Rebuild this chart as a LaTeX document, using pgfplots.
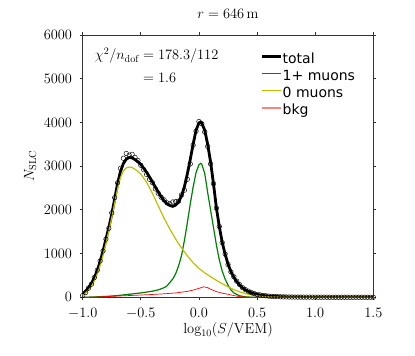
\documentclass[border=0pt]{standalone}
\usepackage{pgfplots}
\pgfplotsset{compat=1.18}
\usepackage{fontspec}
\newfontfamily\legfont{DejaVu Sans}
\definecolor{mplgreen}{rgb}{0,0.5,0}
\definecolor{mplyellow}{rgb}{0.75,0.75,0}
\definecolor{spine}{rgb}{0.2,0.2,0.2}

\begin{document}
\begin{tikzpicture}
\begin{axis}[scale only axis, width=290.6pt, height=262.3pt,
  xmin=-1, xmax=1.5, ymin=0, ymax=6000,
  xtick={-1,-0.5,0,0.5,1,1.5}, ytick={0,1000,...,6000},
  xticklabel style={inner sep=0pt, yshift=-8pt, /pgf/number format/.cd,fixed,fixed zerofill,precision=1},
  yticklabel style={inner sep=0pt, xshift=-7.5pt, /pgf/number format/set thousands separator={}},
  scaled y ticks=false,
  tick align=outside, major tick length=3pt, tick pos=both,
  axis line style={spine, line width=0.8pt}, tick style={spine, line width=0.8pt},
  tick label style={font=\fontsize{14.5}{17}\selectfont},
  label style={font=\fontsize{14.5}{17}\selectfont},
  xlabel={$\log_{10}(S/\mathrm{VEM})$},
  xlabel style={at={(axis description cs:0.5,0)}, anchor=base, yshift=-36pt},
  ylabel={$N_{\mathrm{SLC}}$},
  ylabel style={at={(axis description cs:-0.181,0.5)}, anchor=center},
  legend cell align=left,
  legend style={draw=none, fill=none, at={(rel axis cs:0.6125,0.934)}, anchor=north west,
    font=\legfont\fontsize{14}{17}\selectfont, row sep=3.7pt, inner sep=0pt,
    nodes={inner sep=0pt, text height=10.5pt, text depth=3pt},
    /tikz/every even column/.append style={column sep=5pt}},
  legend image code/.code={\draw[#1] (0pt,0.3em) -- (19pt,0.3em);},
]
% total fit
\addplot[black, line width=2.8pt, forget plot] coordinates {
(-1.000,70)(-0.975,140)(-0.950,220)(-0.925,320)(-0.900,450)(-0.875,610)(-0.850,820)
(-0.825,1060)(-0.800,1330)(-0.775,1600)(-0.750,1900)(-0.725,2250)(-0.700,2600)
(-0.675,2880)(-0.650,3060)(-0.625,3160)(-0.600,3200)(-0.575,3190)(-0.550,3150)
(-0.525,3100)(-0.500,3040)(-0.475,2950)(-0.450,2860)(-0.425,2750)(-0.400,2640)
(-0.375,2520)(-0.350,2410)(-0.325,2300)(-0.300,2210)(-0.275,2140)(-0.250,2100)
(-0.225,2080)(-0.200,2110)(-0.175,2180)(-0.150,2320)(-0.125,2530)(-0.100,2820)
(-0.075,3150)(-0.050,3500)(-0.025,3820)(0.000,3990)(0.015,4010)(0.025,3980)
(0.050,3820)(0.075,3500)(0.100,3100)(0.125,2600)(0.150,2050)(0.175,1620)
(0.200,1260)(0.225,990)(0.250,760)(0.275,590)(0.300,460)(0.325,360)(0.350,280)
(0.375,215)(0.400,170)(0.425,135)(0.450,105)(0.475,82)(0.500,65)(0.550,42)
(0.600,27)(0.650,18)(0.700,12)(0.800,6)(0.900,3)(1.000,2)(1.250,1)(1.500,0)};
% 1+ muons
\addplot[mplgreen, line width=1.2pt, forget plot] coordinates {
(-1.0,0)(-0.9,8)(-0.8,20)(-0.7,40)(-0.6,70)(-0.5,100)(-0.4,140)(-0.35,170)(-0.3,220)
(-0.275,260)(-0.25,340)(-0.225,420)(-0.2,540)(-0.175,720)(-0.15,950)(-0.125,1300)
(-0.1,1700)(-0.075,2130)(-0.05,2520)(-0.025,2850)(0.0,3030)(0.015,3065)(0.025,3040)
(0.05,2830)(0.075,2400)(0.1,2000)(0.125,1600)(0.15,1200)(0.175,860)(0.2,600)
(0.225,420)(0.25,280)(0.275,170)(0.3,100)(0.35,35)(0.4,10)(0.45,2)(0.5,0)(1.5,0)};
% 0 muons
\addplot[mplyellow, line width=1.2pt, forget plot] coordinates {
(-1.0,40)(-0.975,100)(-0.95,160)(-0.925,250)(-0.9,370)(-0.875,530)(-0.85,730)
(-0.825,960)(-0.8,1230)(-0.775,1520)(-0.75,1820)(-0.725,2150)(-0.7,2480)(-0.675,2740)
(-0.65,2890)(-0.625,2960)(-0.6,2980)(-0.575,2970)(-0.55,2930)(-0.5,2820)(-0.45,2630)
(-0.4,2380)(-0.35,2090)(-0.3,1810)(-0.25,1560)(-0.2,1330)(-0.15,1130)(-0.1,950)
(-0.05,790)(0.0,660)(0.05,560)(0.1,470)(0.15,390)(0.2,310)(0.25,240)(0.3,175)
(0.35,125)(0.4,85)(0.45,55)(0.5,35)(0.55,20)(0.6,12)(0.7,4)(0.8,1)(1.0,0)(1.5,0)};
% bkg
\addplot[red, line width=0.7pt, forget plot] coordinates {
(-1.0,0)(-0.9,5)(-0.8,15)(-0.7,28)(-0.6,40)(-0.5,52)(-0.4,65)(-0.3,80)(-0.2,100)
(-0.1,135)(-0.05,165)(0.0,205)(0.04,240)(0.075,220)(0.1,185)(0.15,130)(0.2,95)
(0.25,70)(0.3,40)(0.35,15)(0.4,5)(0.5,0)(1.5,0)};
% data
\addplot[only marks, mark=o, mark size=2.3pt, black, line width=0.45pt, forget plot] coordinates {
(-1.000,40)(-0.975,110)(-0.950,210)(-0.925,300)(-0.900,450)(-0.875,620)(-0.850,830)
(-0.825,1060)(-0.800,1330)(-0.775,1580)(-0.750,1930)(-0.725,2280)(-0.700,2620)
(-0.675,2950)(-0.650,3180)(-0.625,3290)(-0.600,3250)(-0.575,3270)(-0.550,3200)
(-0.525,3130)(-0.500,3020)(-0.475,2920)(-0.450,2810)(-0.425,2700)(-0.400,2620)
(-0.375,2480)(-0.350,2380)(-0.325,2290)(-0.300,2230)(-0.275,2160)(-0.250,2140)
(-0.225,2180)(-0.200,2190)(-0.175,2200)(-0.150,2340)(-0.125,2450)(-0.100,2700)
(-0.075,3050)(-0.050,3480)(-0.025,3800)(0.000,4020)(0.025,3970)(0.050,3780)
(0.075,3450)(0.100,3050)(0.125,2600)(0.150,2040)(0.175,1620)(0.200,1250)
(0.225,990)(0.250,750)(0.275,580)(0.300,470)(0.325,370)(0.350,290)(0.375,220)
(0.400,175)(0.425,140)(0.450,110)(0.475,85)(0.500,65)(0.525,55)(0.550,42)
(0.575,35)(0.600,27)(0.625,22)(0.650,18)(0.675,14)(0.700,12)(0.725,10)(0.750,8)
(0.775,7)(0.800,6)(0.825,5)(0.850,5)(0.875,4)(0.900,4)(0.925,3)(0.950,3)(0.975,3)
(1.000,2)(1.025,2)(1.050,2)(1.075,2)(1.100,2)(1.125,1)(1.150,1)(1.175,1)(1.200,1)
(1.225,1)(1.250,1)(1.275,1)(1.300,1)(1.325,1)(1.350,1)(1.375,1)(1.400,1)(1.425,1)
(1.450,1)(1.475,1)(1.500,1)};
\addlegendimage{black, line width=2.8pt}\addlegendentry{total}
\addlegendimage{mplgreen, line width=1.4pt}\addlegendentry{1+ muons}
\addlegendimage{mplyellow, line width=1.4pt}\addlegendentry{0 muons}
\addlegendimage{red!50, line width=1.4pt}\addlegendentry{bkg}
\node[anchor=base west, font=\fontsize{14.5}{17}\selectfont] at (rel axis cs:0.03,0.905)
  {$\chi^2/n_{\mathrm{dof}} = 178.3/112$};
\node[anchor=base west, font=\fontsize{14.5}{17}\selectfont] at (rel axis cs:0.03,0.82)
  {$\phantom{\chi^2/n_{\mathrm{dof}}} = 1.6$};
\end{axis}
\node[anchor=base, yshift=16pt, font=\fontsize{14.5}{17}\selectfont] at (current axis.north)
  {$r = 646\,\mathrm{m}$};
\pgfresetboundingbox
\path (-82.7pt,-58.7pt) rectangle (332.3pt,297.3pt);
\end{tikzpicture}
\end{document}
